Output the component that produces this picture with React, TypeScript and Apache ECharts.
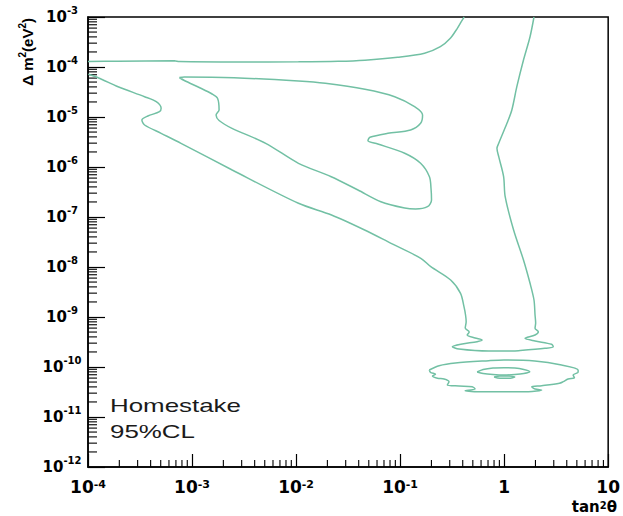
import React, { useEffect, useRef } from "react";
import * as echarts from "echarts";

// Contours, stored as [log10(tan^2 theta), log10(delta m^2 / eV^2)]
const upperBoundary: [number, number][] = [
  [-4.0, -3.89], [-3.714, -3.884], [-3.17, -3.876], [-3.122, -3.892], [-2.55, -3.9],
  [-1.977, -3.896], [-1.595, -3.886], [-1.338, -3.864], [-1.023, -3.806], [-0.765, -3.726],
  [-0.613, -3.594], [-0.517, -3.426], [-0.45, -3.226], [-0.412, -3.094], [-0.384, -3.0],
];

const middleLoop: [number, number][] = [
  [-3.122, -4.21], [-3.074, -4.2], [-2.597, -4.214], [-1.977, -4.28], [-1.719, -4.326],
  [-1.338, -4.446], [-1.052, -4.594], [-0.861, -4.794], [-0.784, -4.96], [-0.803, -5.126],
  [-0.899, -5.26], [-1.118, -5.326], [-1.29, -5.406], [-1.309, -5.474], [-1.214, -5.54],
  [-0.956, -5.726], [-0.803, -5.926], [-0.718, -6.194], [-0.703, -6.426], [-0.698, -6.66],
  [-0.737, -6.794], [-0.851, -6.84], [-0.956, -6.82], [-1.185, -6.694], [-1.405, -6.46],
  [-1.662, -6.194], [-1.977, -5.926], [-2.292, -5.526], [-2.616, -5.226], [-2.74, -5.07],
  [-2.769, -4.96], [-2.74, -4.86], [-2.755, -4.626], [-2.807, -4.54], [-2.931, -4.41],
  [-3.074, -4.27], [-3.122, -4.21],
];

const funnel: [number, number][] = [
  [-3.997, -4.146], [-3.902, -4.214], [-3.711, -4.394], [-3.456, -4.594], [-3.344, -4.694],
  [-3.297, -4.826], [-3.313, -4.894], [-3.425, -4.98], [-3.482, -5.06], [-3.456, -5.16],
  [-3.297, -5.326], [-3.106, -5.526], [-2.614, -6.06], [-1.977, -6.726], [-1.659, -6.96],
  [-1.341, -7.26], [-1.087, -7.526], [-0.801, -7.826], [-0.705, -7.994], [-0.514, -8.26],
  [-0.419, -8.526], [-0.386, -8.794], [-0.371, -8.96], [-0.365, -9.094], [-0.374, -9.22],
  [-0.336, -9.3], [-0.355, -9.36], [-0.279, -9.42], [-0.212, -9.46], [-0.26, -9.494],
  [-0.403, -9.54], [-0.498, -9.594], [-0.434, -9.64], [-0.148, -9.68], [0.074, -9.68],
  [0.138, -9.674], [0.392, -9.626], [0.472, -9.594], [0.456, -9.546], [0.297, -9.48],
  [0.201, -9.426], [0.297, -9.36], [0.329, -9.294], [0.297, -9.226], [0.303, -9.12],
  [0.297, -8.96], [0.287, -8.66], [0.249, -8.326], [0.186, -7.86], [0.091, -7.26],
  [0.01, -6.594], [-0.005, -6.194], [-0.052, -5.794], [-0.069, -5.626], [-0.052, -5.526],
  [0.027, -5.126], [0.074, -4.86], [0.122, -4.394], [0.186, -3.86], [0.249, -3.394],
  [0.287, -3.0],
];

const outerRing: [number, number][] = [
  [-0.72, -10.06], [-0.625, -9.974], [-0.469, -9.92], [-0.148, -9.874], [-0.002, -9.86],
  [0.294, -9.88], [0.552, -9.96], [0.711, -10.06], [0.711, -10.106], [0.663, -10.16],
  [0.676, -10.214], [0.615, -10.24], [0.568, -10.294], [0.532, -10.326], [0.361, -10.374],
  [0.265, -10.394], [0.297, -10.44], [0.361, -10.46], [0.234, -10.494], [-0.021, -10.494],
  [-0.212, -10.494], [-0.374, -10.474], [-0.279, -10.44], [-0.307, -10.394], [-0.434, -10.38],
  [-0.546, -10.36], [-0.53, -10.294], [-0.577, -10.24], [-0.641, -10.226], [-0.689, -10.18],
  [-0.66, -10.146], [-0.708, -10.106], [-0.72, -10.06],
];

const innerRing: [number, number][] = [
  [-0.26, -10.1], [-0.202, -10.05], [-0.107, -10.02], [-0.002, -10.014], [0.103, -10.02],
  [0.189, -10.05], [0.246, -10.094], [0.189, -10.13], [0.103, -10.15], [-0.002, -10.16],
  [-0.107, -10.15], [-0.202, -10.13], [-0.26, -10.1],
];

const tinyLoop: [number, number][] = [
  [-0.097, -10.2], [-0.04, -10.18], [0.046, -10.18], [0.103, -10.2], [0.046, -10.226],
  [-0.04, -10.226], [-0.097, -10.2],
];

const xDecades = [-4, -3, -2, -1, 0]; // minor ticks 2..9 x 10^n
const yDecades = [-12, -11, -10, -9, -8, -7, -6, -5, -4];
const minorMultipliers = [2, 3, 4, 5, 6, 7, 8, 9];

const X_MIN = 1e-4;
const X_MAX = 10;
const Y_MIN = 1e-12;
const Y_MAX = 1e-3;

const LINE_COLOR = "#72c0a4";

const toValues = (arr: [number, number][]) => arr.map(([a, b]) => [Math.pow(10, a), Math.pow(10, b)]);

const labelFormatter = (v: number) => {
  const e = Math.round(Math.log10(v));
  if (e === 0) return "{b|1}";
  if (e === 1) return "{b|10}";
  return `{b|10}{s|${e}}`;
};

export default function App() {
  const ref = useRef<HTMLDivElement>(null);

  useEffect(() => {
    if (!ref.current) return;
    const chart = echarts.init(ref.current, undefined, { renderer: "svg" });

    const xMinor: number[][] = [];
    xDecades.forEach((d) => minorMultipliers.forEach((m) => xMinor.push([m * Math.pow(10, d), Y_MIN])));
    const yMinor: number[][] = [];
    yDecades.forEach((d) => minorMultipliers.forEach((m) => yMinor.push([X_MIN, m * Math.pow(10, d)])));

    const curve = (name: string, arr: [number, number][]) => ({
      name,
      type: "line",
      data: toValues(arr),
      showSymbol: false,
      symbol: "none",
      smooth: 0.3,
      lineStyle: { color: LINE_COLOR, width: 1.5 },
      silent: true,
      z: 3,
    });

    const option: any = {
      animation: false,
      backgroundColor: "#fff",
      grid: {
        left: 88,
        right: 11,
        top: 17,
        bottom: 49,
        show: true,
        borderColor: "#000",
        borderWidth: 1.5,
        backgroundColor: "transparent",
      },
      xAxis: {
        type: "log",
        logBase: 10,
        min: X_MIN,
        max: X_MAX,
        interval: 1,
        axisLine: { show: true, lineStyle: { color: "#000", width: 1.5 } },
        axisTick: { show: true, inside: true, length: 13, lineStyle: { color: "#000", width: 1.2 } },
        minorTick: { show: false },
        splitLine: { show: false },
        axisLabel: {
          margin: 12,
          showMinLabel: true,
          showMaxLabel: true,
          formatter: labelFormatter,
          rich: {
            b: { fontFamily: "DejaVu Sans", fontWeight: "bold", fontSize: 17, lineHeight: 16, color: "#000" },
            s: { fontFamily: "DejaVu Sans", fontWeight: "bold", fontSize: 11, lineHeight: 9, verticalAlign: "top", color: "#000" },
          },
        },
      },
      yAxis: {
        type: "log",
        logBase: 10,
        min: Y_MIN,
        max: Y_MAX,
        interval: 1,
        axisLine: { show: true, lineStyle: { color: "#000", width: 1.5 } },
        axisTick: { show: true, inside: true, length: 17, lineStyle: { color: "#000", width: 1.2 } },
        minorTick: { show: false },
        splitLine: { show: false },
        axisLabel: {
          margin: 26,
          align: "center",
          showMinLabel: true,
          showMaxLabel: true,
          formatter: labelFormatter,
          rich: {
            b: { fontFamily: "DejaVu Sans", fontWeight: "bold", fontSize: 15, lineHeight: 24, color: "#000" },
            s: { fontFamily: "DejaVu Sans", fontWeight: "bold", fontSize: 10, lineHeight: 11, verticalAlign: "top", color: "#000" },
          },
        },
      },
      graphic: [
        {
          type: "text",
          x: 27,
          y: 18,
          rotation: Math.PI / 2,
          style: {
            text: "{b|\u0394 m}{s|2}{b|(eV}{s|2}{b|)}",
            align: "right",
            verticalAlign: "middle",
            rich: {
              b: { fontFamily: "Liberation Sans", fontWeight: "bold", fontSize: 15, lineHeight: 20, fill: "#000" },
              s: { fontFamily: "Liberation Sans", fontWeight: "bold", fontSize: 10, lineHeight: 10, verticalAlign: "top", fill: "#000" },
            },
          },
        },
        {
          type: "text",
          x: 617,
          y: 507,
          style: {
            text: "{b|tan}{s|2}{b|\u03b8}",
            align: "right",
            verticalAlign: "middle",
            rich: {
              b: { fontFamily: "DejaVu Sans", fontWeight: "bold", fontSize: 15, lineHeight: 13, fill: "#000" },
              s: { fontFamily: "DejaVu Sans", fontWeight: "bold", fontSize: 10, lineHeight: 8, verticalAlign: "top", fill: "#000" },
            },
          },
        },
        {
          type: "text",
          x: 110,
          y: 405.5,
          scaleX: 1.4,
          style: {
            text: "Homestake",
            fontFamily: "Liberation Sans",
            fontSize: 18.5,
            fill: "#1a1a1a",
            align: "left",
            verticalAlign: "middle",
          },
        },
        {
          type: "text",
          x: 110,
          y: 431.5,
          scaleX: 1.4,
          style: {
            text: "95%CL",
            fontFamily: "Liberation Sans",
            fontSize: 18.5,
            fill: "#1a1a1a",
            align: "left",
            verticalAlign: "middle",
          },
        },
      ],
      series: [
        curve("upper", upperBoundary),
        curve("middle", middleLoop),
        curve("funnel", funnel),
        curve("outer ring", outerRing),
        curve("inner ring", innerRing),
        curve("tiny loop", tinyLoop),
        {
          type: "custom",
          name: "x minor ticks",
          silent: true,
          data: xMinor,
          renderItem: (params: any, api: any) => {
            const p = api.coord([api.value(0), api.value(1)]);
            return {
              type: "line",
              shape: { x1: p[0], y1: p[1], x2: p[0], y2: p[1] - 7 },
              style: { stroke: "#000", lineWidth: 1.1 },
            };
          },
        },
        {
          type: "custom",
          name: "y minor ticks",
          silent: true,
          data: yMinor,
          renderItem: (params: any, api: any) => {
            const p = api.coord([api.value(0), api.value(1)]);
            return {
              type: "line",
              shape: { x1: p[0], y1: p[1], x2: p[0] + 9, y2: p[1] },
              style: { stroke: "#000", lineWidth: 1.1 },
            };
          },
        },
      ],
    };

    chart.setOption(option);
    return () => chart.dispose();
  }, []);

  return (
    <div
      ref={ref}
      style={{ position: "fixed", left: 0, top: 0, width: 623, height: 516, background: "#fff" }}
    />
  );
}
